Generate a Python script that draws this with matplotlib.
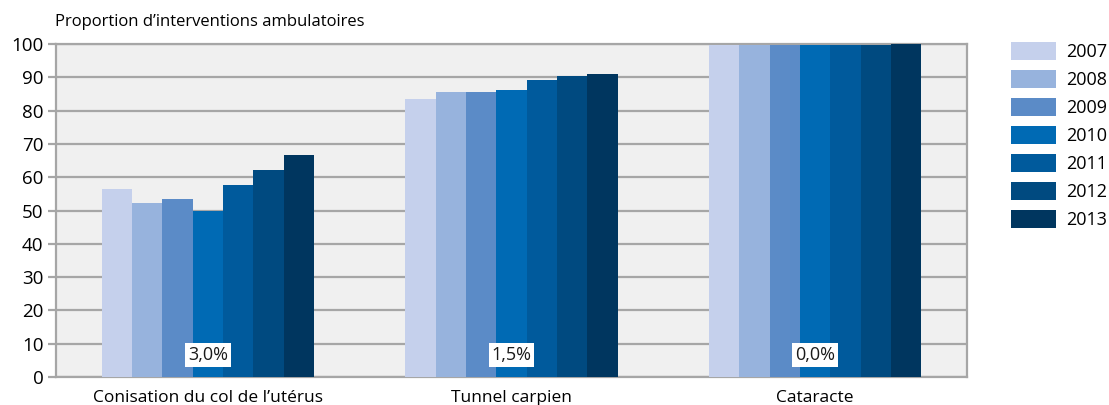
import numpy as np
import matplotlib.pyplot as plt
from matplotlib.patches import Patch

plt.rcParams['font.family'] = ['Open Sans', 'DejaVu Sans']

# catégories et séries (proportion d'interventions ambulatoires, %)
categories = ["Conisation du col de l\u2019utérus", "Tunnel carpien", "Cataracte"]
years = ["2007", "2008", "2009", "2010", "2011", "2012", "2013"]
values = {
    "2007": [56.4, 83.5, 99.8],
    "2008": [52.3, 85.6, 99.8],
    "2009": [53.4, 85.6, 99.7],
    "2010": [49.9, 86.2, 99.6],
    "2011": [57.6, 89.2, 99.8],
    "2012": [62.1, 90.4, 99.8],
    "2013": [66.6, 91.0, 99.9],
}
growth_labels = ["3,0%", "1,5%", "0,0%"]
colors = ["#c5d0ec", "#97b3dd", "#5b8bc7", "#006ab4", "#005a9c", "#004a80", "#00365f"]

fig = plt.figure(figsize=(11.09, 4.05), dpi=100)
ax = fig.add_axes([56 / 1109, 28 / 405, 911 / 1109, 333 / 405])
ax.set_facecolor("#f0f0f0")

x = np.arange(len(categories))
width = 0.70 / len(years)
for i, (year, col) in enumerate(zip(years, colors)):
    offs = (i - (len(years) - 1) / 2) * width
    ax.bar(x + offs, values[year], width=width, color=col, zorder=3)

# étiquettes de variation annuelle
for xi, lab in zip(x, growth_labels):
    ax.text(xi, 6.6, lab, ha="center", va="center", fontsize=13, color="#1a1a1a",
            bbox=dict(facecolor="white", edgecolor="none", pad=2), zorder=4)

ax.set_xlim(-0.5, len(categories) - 0.5)
ax.set_ylim(0, 100)
ax.set_yticks(np.arange(0, 101, 10))
ax.yaxis.grid(True, color="#a6a6a6", linewidth=1.6, zorder=0)
ax.set_axisbelow(True)
for sp in ax.spines.values():
    sp.set_color("#a6a6a6")
    sp.set_linewidth(1.6)
ax.tick_params(axis="y", length=6, width=1.6, color="#a6a6a6", labelsize=13.5, pad=3)
ax.tick_params(axis="x", length=0, labelsize=12.5, pad=9)
ax.set_xticks(x)
ax.set_xticklabels(categories)

fig.text(55 / 1109, 1 - 22 / 405, "Proportion d\u2019interventions ambulatoires",
         fontsize=12, va="center", ha="left")

handles = [Patch(facecolor=c, edgecolor="none") for c in colors]
fig.legend(handles, years, loc="upper left", bbox_to_anchor=(1011 / 1109, 1 - 42 / 405),
           frameon=False, fontsize=13, handlelength=2.5, handleheight=1.17,
           handletextpad=0.55, labelspacing=0.49, borderpad=0, borderaxespad=0)

fig.savefig("out.png", dpi=100)
